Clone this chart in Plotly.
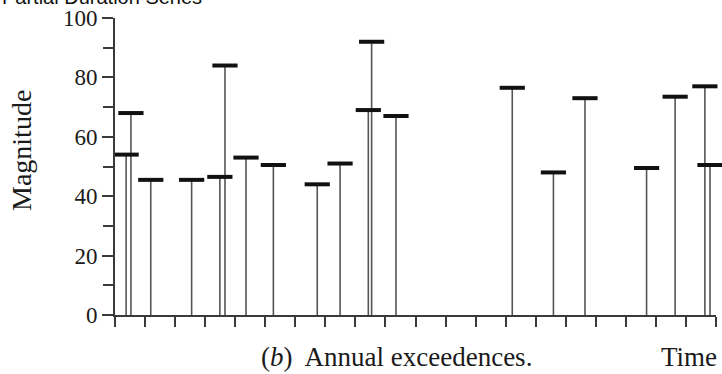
import plotly.graph_objects as go

# Data (time in years, magnitude)
times = [0.37, 0.53, 1.19, 2.55, 3.49, 3.66, 4.36, 5.27, 6.73, 7.49,
         8.43, 8.54, 9.35, 13.22, 14.59, 15.64, 17.69, 18.64, 19.63, 19.80]
magnitudes = [54, 68, 45.5, 45.5, 46.5, 84, 53, 50.5, 44, 51,
              69, 92, 67, 76.5, 48, 73, 49.5, 73.5, 77, 50.5]

y_ticks = [0, 20, 40, 60, 80, 100]
title_text = "Partial Duration Series"
x_label = "(<i>b</i>)  Annual exceedences."
x_label_right = "Time"
y_label = "Magnitude"

serif = "Liberation Serif, Times New Roman, serif"
ink = "#1a1a1a"
axis_col = "#3a3a3a"

fig = go.Figure()
fig.add_trace(go.Scatter(
    x=times, y=magnitudes, mode="markers",
    marker=dict(symbol="line-ew", size=18, line=dict(width=4, color="#111111")),
    error_y=dict(type="data", symmetric=False,
                 array=[0] * len(magnitudes), arrayminus=magnitudes,
                 width=0, thickness=1.6, color="#555555"),
    showlegend=False, cliponaxis=False,
))

fig.update_layout(
    width=722, height=374,
    margin=dict(l=115, r=6, t=18, b=59),
    paper_bgcolor="white", plot_bgcolor="white",
    xaxis=dict(range=[0, 20], showgrid=False, zeroline=False,
               showline=True, linecolor=axis_col, linewidth=2,
               ticks="outside", ticklen=10, tickwidth=1.5, tickcolor=axis_col,
               dtick=1, tick0=0, showticklabels=False),
    yaxis=dict(range=[0, 100], showgrid=False, zeroline=False,
               showline=True, linecolor=axis_col, linewidth=2,
               ticks="outside", ticklen=11, tickwidth=1.5, tickcolor=axis_col,
               tickvals=y_ticks, ticktext=[str(v) for v in y_ticks],
               tickfont=dict(family=serif, size=23, color=ink),
               minor=dict(dtick=10, ticks="outside", ticklen=10,
                          tickwidth=1.5, tickcolor=axis_col)),
    annotations=[
        dict(text=title_text, xref="paper", yref="paper", x=-115/601, y=1.028,
             xanchor="left", yanchor="bottom", showarrow=False,
             font=dict(family="Liberation Sans, Arial, sans-serif", size=20, color="#111111")),
        dict(text=x_label, xref="paper", yref="paper", x=(396-115)/601, y=-(357-315)/297,
             xanchor="center", yanchor="middle", showarrow=False,
             font=dict(family=serif, size=27, color=ink)),
        dict(text=x_label_right, xref="paper", yref="paper", x=(719-115)/601, y=-(357-315)/297,
             xanchor="right", yanchor="middle", showarrow=False,
             font=dict(family=serif, size=27, color=ink)),
        dict(text=y_label, xref="paper", yref="paper", x=-(115-21)/601, y=(315-151)/297,
             xanchor="center", yanchor="middle", textangle=-90, showarrow=False,
             font=dict(family=serif, size=28, color=ink)),
    ],
)

fig.write_html("out.html")
